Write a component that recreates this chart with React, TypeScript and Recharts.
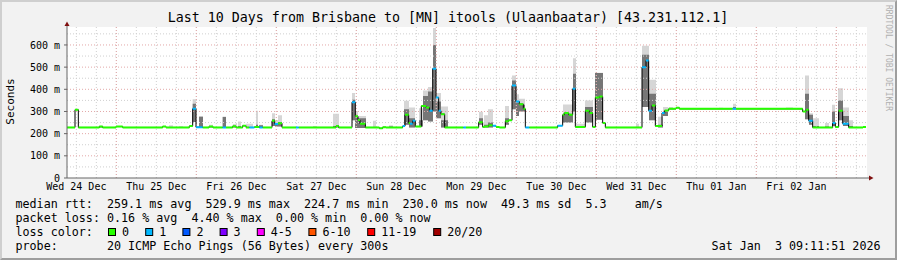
import {
  Area,
  ComposedChart,
  Line,
  ReferenceArea,
  ReferenceDot,
  ReferenceLine,
  XAxis,
  YAxis,
} from "recharts";

const TITLE = "Last 10 Days from Brisbane to [MN] itools (Ulaanbaatar) [43.231.112.1]";

// x axis is hours since the graph start (Wed 24 Dec 09:11), 10 days = 240 h
const DAY_LABELS = [
  "Wed 24 Dec", "Thu 25 Dec", "Fri 26 Dec", "Sat 27 Dec", "Sun 28 Dec",
  "Mon 29 Dec", "Tue 30 Dec", "Wed 31 Dec", "Thu 01 Jan", "Fri 02 Jan",
];
const DAY_LABEL_HOURS = [2.8, 26.8, 50.8, 74.8, 98.8, 122.8, 146.8, 170.8, 194.8, 218.8];
const MIDNIGHT_HOURS = [14.8, 38.8, 62.8, 86.8, 110.8, 134.8, 158.8, 182.8, 206.8, 230.8];
const Y_TICKS = [0, 100, 200, 300, 400, 500, 600];
const Y_MAX = 681;

// median rtt steps: [hour, ms, loss level]
const MEDIAN: [number, number, number][] = [
  [0, 228, 0], [2.4, 308, 0], [3.4, 228, 0], [9.7, 232, 0], [10.7, 228, 0],
  [14.7, 232, 0], [16.7, 228, 0], [28.7, 232, 0], [29.7, 228, 0], [36.7, 234, 0],
  [37.7, 312, 1], [38.7, 229, 1], [40.7, 228, 0], [42.6, 232, 0], [43.8, 228, 0],
  [46.7, 228, 1], [47.7, 228, 0], [49.7, 233, 0], [50.7, 228, 0], [52.7, 236, 0],
  [53.7, 228, 0], [54.7, 228, 1], [56.2, 230, 0], [57.7, 228, 1], [58.7, 228, 0],
  [61.5, 258, 0], [62.3, 243, 1], [63.3, 247, 0], [64.5, 228, 0], [68.7, 228, 1],
  [69.5, 228, 0], [80.7, 235, 0], [81.5, 228, 0], [85.5, 342, 1], [86.5, 278, 0],
  [87.3, 262, 0], [87.9, 245, 0], [89.5, 228, 0], [93.7, 224, 0], [94.7, 229, 0],
  [95.7, 228, 0], [100.7, 234, 1], [101.4, 285, 0], [102.5, 248, 0], [102.9, 245, 1],
  [103.7, 258, 1], [104.5, 232, 0], [106.3, 325, 0], [107.7, 318, 0], [108.7, 303, 1],
  [109.7, 493, 1], [110.7, 363, 1], [111.5, 303, 1], [112.2, 288, 0], [113.3, 228, 0],
  [118.9, 228, 1], [119.7, 228, 0], [123.5, 251, 0], [124.7, 230, 0], [125.2, 232, 0],
  [126.5, 238, 0], [127.7, 236, 1], [128.7, 230, 0], [129.7, 228, 0], [131.5, 256, 0],
  [132.5, 260, 0], [133.5, 417, 1], [134.7, 345, 1], [135.7, 333, 0], [136.9, 312, 0],
  [137.5, 228, 1], [138.7, 228, 0], [147.2, 236, 1], [148.7, 285, 0], [149.2, 293, 0],
  [150.5, 285, 0], [151.7, 402, 1], [152.5, 230, 0], [155.5, 303, 0], [156.7, 293, 0],
  [157.7, 230, 0], [158.5, 363, 0], [159.7, 367, 0], [160.7, 248, 0], [161.5, 228, 0],
  [172.5, 500, 1], [173.7, 530, 1], [174.5, 303, 1], [175.5, 327, 0], [176.5, 234, 0],
  [178.5, 293, 1], [179.3, 304, 0], [180.5, 312, 0], [182.7, 317, 0], [183.7, 312, 0],
  [199.7, 312, 1], [200.7, 312, 0], [220.7, 300, 0], [221.7, 308, 0], [222.5, 258, 1],
  [223.7, 228, 0], [229.7, 248, 1], [230.5, 230, 0], [231.5, 303, 0], [232.7, 245, 1],
  [234.5, 228, 0], [238.8, 230, 0], [239.7, 230, 0],
];

// smoke blocks: [from hour, to hour, low ms, dark top ms, high ms]
const SMOKE: [number, number, number, number, number][] = [
  [9.6, 10.8, 228, 230, 236], [30.6, 31.8, 228, 230, 238], [33.6, 34.8, 228, 229, 233],
  [37.7, 38.7, 253, 335, 355], [39.6, 40.8, 228, 276, 278], [42.6, 43.8, 228, 230, 240],
  [46.7, 47.7, 228, 275, 277], [49.8, 51.0, 228, 232, 244], [51.3, 52.2, 228, 235, 255],
  [53.7, 55.8, 228, 230, 245], [56.7, 57.3, 228, 240, 303], [57.6, 58.8, 228, 238, 240],
  [61.5, 62.4, 235, 265, 292], [62.4, 63.3, 232, 245, 262], [63.3, 64.5, 232, 250, 283],
  [73.8, 74.7, 228, 230, 235], [79.8, 81.6, 228, 235, 290], [85.5, 86.4, 260, 353, 383],
  [86.4, 87.3, 225, 278, 302], [87.3, 89.7, 225, 270, 280], [91.8, 92.7, 228, 230, 258],
  [96.6, 97.8, 228, 232, 238], [101.1, 102.6, 240, 310, 348], [102.6, 104.4, 228, 270, 318],
  [105.6, 106.8, 232, 260, 315], [106.8, 108.3, 260, 370, 395], [108.3, 109.8, 255, 390, 410],
  [109.8, 110.7, 300, 600, 677], [110.7, 112.2, 270, 345, 383], [112.2, 114.3, 228, 260, 323],
  [123.6, 124.8, 240, 270, 299], [125.1, 126.3, 228, 240, 283], [126.3, 127.8, 228, 250, 310],
  [131.4, 132.6, 240, 270, 325], [133.5, 134.7, 310, 440, 462], [134.7, 135.6, 280, 340, 378],
  [135.6, 137.4, 300, 330, 357], [148.8, 151.8, 250, 290, 332], [151.8, 152.7, 300, 470, 540],
  [152.7, 155.4, 228, 232, 245], [155.4, 157.8, 250, 320, 350], [158.4, 160.8, 263, 473, 475],
  [170.7, 171.6, 228, 230, 245], [172.5, 174.6, 320, 556, 597], [174.6, 176.7, 260, 380, 443],
  [177.3, 178.8, 228, 240, 276], [178.8, 180.3, 280, 300, 320], [180.6, 181.8, 312, 314, 320],
  [195.6, 196.8, 312, 313, 317], [199.8, 200.7, 312, 320, 335], [215.7, 217.8, 312, 313, 318],
  [221.4, 222.6, 265, 380, 462], [222.6, 223.8, 240, 285, 292], [223.8, 225.6, 228, 235, 270],
  [227.4, 228.6, 228, 232, 248], [229.5, 230.4, 235, 300, 330], [231.3, 232.8, 260, 350, 405],
  [232.8, 234.6, 235, 280, 318], [234.6, 235.8, 228, 235, 260],
];

const LOSS_LEGEND: [string, string][] = [
  ["0", "#26ff00"], ["1", "#00b8ff"], ["2", "#0059ff"], ["3", "#7e00ff"],
  ["4-5", "#ff00ff"], ["6-10", "#ff5500"], ["11-19", "#ff0000"], ["20/20", "#a10000"],
];

const LEGEND_LINES = [
  "median rtt:  259.1 ms avg  529.9 ms max  224.7 ms min  230.0 ms now  49.3 ms sd  5.3    am/s",
  "packet loss: 0.16 % avg  4.40 % max  0.00 % min  0.00 % now",
];
const PROBE_LINE = "probe:       20 ICMP Echo Pings (56 Bytes) every 300s";
const DATE_STAMP = "Sat Jan  3 09:11:51 2026";

const MONO = "DejaVu Sans Mono";

const medianData = MEDIAN.map(([h, ms]) => ({ h, ms }));

function segmentsFor(loss: number) {
  const out: { h: number; v: number | null }[] = [];
  for (let i = 0; i < MEDIAN.length - 1; i++) {
    const [h, ms, l] = MEDIAN[i];
    if (l !== loss) continue;
    const next = MEDIAN[i + 1][0];
    out.push({ h, v: ms }, { h: next, v: ms }, { h: next, v: null });
  }
  return out;
}

const smokeData = SMOKE.flatMap(([a, b, lo, mid, hi]) => [
  { h: a, outer: [lo, hi], inner: [lo, mid] },
  { h: b, outer: [lo, hi], inner: [lo, mid] },
  { h: b, outer: null, inner: null },
]);

const minorV = Array.from({ length: 40 }, (_, i) => 2.8 + i * 6);
const minorH = [50, 150, 250, 350, 450, 550, 650];
const majorH = [100, 200, 300, 400, 500, 600];

const XArrow = (p: any) => (
  <g>
    <line x1={p.cx} y1={p.cy} x2={p.cx + 3} y2={p.cy} stroke="#666" />
    <path d={`M${p.cx + 2} ${p.cy - 2.5} L${p.cx + 6.5} ${p.cy} L${p.cx + 2} ${p.cy + 2.5} Z`} fill="#7f0f0f" />
  </g>
);
const YArrow = (p: any) => (
  <g>
    <line x1={p.cx} y1={p.cy} x2={p.cx} y2={p.cy - 3} stroke="#666" />
    <path d={`M${p.cx - 2.5} ${p.cy - 1} L${p.cx} ${p.cy - 5.5} L${p.cx + 2.5} ${p.cy - 1} Z`} fill="#7f0f0f" />
  </g>
);

export default function App() {
  let boxX = 108;
  const lossItems = LOSS_LEGEND.map(([label, color]) => {
    const x = boxX;
    boxX += 30 + label.length * 7.2;
    return (
      <g key={label}>
        <rect x={x + 0.5} y={228.5} width={7} height={7} fill={color} stroke="#000" />
        <text x={x + 14} y={236}>{label}</text>
      </g>
    );
  });

  return (
    <div style={{ position: "absolute", left: 0, top: 0, width: 897, height: 260, background: "#f2f2f2" }}>
      <ComposedChart width={897} height={260} margin={{ top: 27, right: 30, bottom: 62, left: 7 }}>
        <XAxis
          type="number"
          dataKey="h"
          domain={[0, 240]}
          allowDataOverflow
          ticks={DAY_LABEL_HOURS}
          tickFormatter={(_v, i) => DAY_LABELS[i]}
          interval={0}
          height={20}
          tickLine={false}
          tickSize={3}
          tickMargin={2}
          axisLine={{ stroke: "#666" }}
          tick={{ fontSize: 10, fontFamily: MONO, fill: "#000" }}
        />
        <YAxis
          type="number"
          domain={[0, Y_MAX]}
          allowDataOverflow
          ticks={Y_TICKS}
          interval={0}
          width={60}
          tickSize={3}
          tickMargin={4}
          tickFormatter={(v) => (v === 0 ? "0" : `${v} m`)}
          axisLine={{ stroke: "#666" }}
          tickLine={{ stroke: "#666" }}
          tick={{ fontSize: 10, fontFamily: MONO, fill: "#000" }}
        />
        <ReferenceArea x1={0} x2={240} y1={0} y2={Y_MAX} fill="#ffffff" fillOpacity={1} stroke="none" />
        {minorV.map((h) => (
          <ReferenceLine key={`mv${h}`} x={h} stroke="#cfcfcf" strokeDasharray="1 2" />
        ))}
        {minorH.map((v) => (
          <ReferenceLine key={`mh${v}`} y={v} stroke="#cfcfcf" strokeDasharray="1 2" />
        ))}
        {MIDNIGHT_HOURS.map((h) => (
          <ReferenceLine key={`Mv${h}`} x={h} stroke="#e3a8a8" strokeDasharray="1 2" />
        ))}
        {majorH.map((v) => (
          <ReferenceLine key={`Mh${v}`} y={v} stroke="#e3a8a8" strokeDasharray="1 2" />
        ))}
        <Area
          data={smokeData}
          dataKey="outer"
          type="linear"
          stroke="none"
          fill="#d6d6d6"
          fillOpacity={1}
          dot={false}
          activeDot={false}
          isAnimationActive={false}
        />
        <Area
          data={smokeData}
          dataKey="inner"
          type="linear"
          stroke="none"
          fill="#767676"
          fillOpacity={1}
          dot={false}
          activeDot={false}
          isAnimationActive={false}
        />
        <Line
          data={medianData}
          dataKey="ms"
          type="stepAfter"
          stroke="#000"
          strokeWidth={1}
          dot={false}
          activeDot={false}
          isAnimationActive={false}
        />
        {[0, 1].map((loss) => (
          <Line
            key={`loss${loss}`}
            data={segmentsFor(loss)}
            dataKey="v"
            type="linear"
            stroke={LOSS_LEGEND[loss][1]}
            strokeWidth={2}
            dot={false}
            activeDot={false}
            isAnimationActive={false}
          />
        ))}
        <ReferenceDot x={240} y={0} ifOverflow="visible" shape={XArrow} />
        <ReferenceDot x={0} y={Y_MAX} ifOverflow="visible" shape={YArrow} />
      </ComposedChart>

      <svg
        width={897}
        height={260}
        style={{ position: "absolute", left: 0, top: 0, pointerEvents: "none" }}
        fontFamily={MONO}
      >
        <text x={448} y={22} fontSize={13.3} textAnchor="middle">{TITLE}</text>
        <text transform="translate(14,101.5) rotate(-90)" fontSize={11} textAnchor="middle">Seconds</text>
        <text transform="translate(885.5,5) rotate(90)" fontSize={8} fill="#b0b0b0">RRDTOOL / TOBI OETIKER</text>
        <g fontSize={11.7} style={{ whiteSpace: "pre" }}>
          <text x={15.5} y={208} xmlSpace="preserve">{LEGEND_LINES[0]}</text>
          <text x={15.5} y={222} xmlSpace="preserve">{LEGEND_LINES[1]}</text>
          <text x={15.5} y={236}>loss color:</text>
          {lossItems}
          <text x={15.5} y={250} xmlSpace="preserve">{PROBE_LINE}</text>
          <text x={880.5} y={250} textAnchor="end" xmlSpace="preserve">{DATE_STAMP}</text>
        </g>
      </svg>
      <div
        style={{
          position: "absolute",
          inset: 0,
          boxSizing: "border-box",
          borderTop: "2px solid #cfcfcf",
          borderLeft: "2px solid #cfcfcf",
          borderBottom: "2px solid #9e9e9e",
          borderRight: "2px solid #9e9e9e",
          pointerEvents: "none",
        }}
      />
    </div>
  );
}
